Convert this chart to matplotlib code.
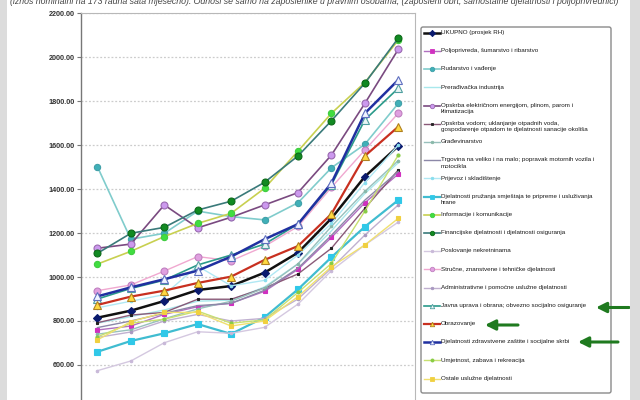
import numpy as np
import matplotlib
matplotlib.use("Agg")
import matplotlib.pyplot as plt
from matplotlib.patches import Rectangle, FancyBboxPatch

plt.rcParams["font.family"] = ["Liberation Sans", "DejaVu Sans"]

W, H = 640, 400

# ten time points (years are off the visible area)
x = np.arange(10)

labels = [
    "UKUPNO (prosjek RH)",
    "Poljoprivreda, šumarstvo i ribarstvo",
    "Rudarstvo i vađenje",
    "Prerađivačka industrija",
    "Opskrba električnom energijom, plinom, parom i\nklimatizacija",
    "Opskrba vodom; uklanjanje otpadnih voda,\ngospodarenje otpadom te djelatnosti sanacije okoliša",
    "Građevinarstvo",
    "Trgovina na veliko i na malo; popravak motornih vozila i\nmotocikla",
    "Prijevoz i skladištenje",
    "Djelatnosti pružanja smještaja te pripreme i usluživanja\nhrane",
    "Informacije i komunikacije",
    "Financijske djelatnosti i djelatnosti osiguranja",
    "Poslovanje nekretninama",
    "Stručne, znanstvene i tehničke djelatnosti",
    "Administrativne i pomoćne uslužne djelatnosti",
    "Javna uprava i obrana; obvezno socijalno osiguranje",
    "Obrazovanje",
    "Djelatnosti zdravstvene zaštite i socijalne skrbi",
    "Umjetnost, zabava i rekreacija",
    "Ostale uslužne djelatnosti",
]

ukupno = [815, 847, 891, 941, 959, 1020, 1111, 1267, 1457, 1596]
poljoprivreda = [759, 777, 830, 865, 881, 935, 1035, 1180, 1338, 1469]
rudarstvo = [1502, 1172, 1199, 1300, 1275, 1260, 1338, 1497, 1604, 1790]
preradjivacka = [790, 820, 850, 890, 895, 955, 1060, 1210, 1380, 1520]
elektricna = [1131, 1150, 1328, 1224, 1272, 1328, 1384, 1555, 1790, 2036]
voda = [792, 827, 839, 899, 899, 950, 1014, 1131, 1313, 1487]
gradjevinarstvo = [740, 760, 810, 855, 890, 950, 1060, 1230, 1390, 1530]
trgovina = [770, 800, 835, 870, 880, 940, 1040, 1190, 1350, 1480]
prijevoz = [860, 890, 920, 1050, 960, 985, 1100, 1244, 1430, 1600]
smjestaj = [660, 709, 744, 786, 741, 817, 944, 1090, 1229, 1350]
informacije = [1059, 1117, 1184, 1244, 1290, 1404, 1573, 1745, 1885, 2078]
financijske = [1108, 1199, 1226, 1305, 1345, 1431, 1551, 1711, 1882, 2087]
nekretnine = [574, 618, 701, 751, 744, 771, 877, 1029, 1146, 1250]
strucne = [938, 964, 1027, 1093, 1074, 1140, 1230, 1408, 1578, 1745]
administrativne = [725, 750, 800, 830, 800, 812, 900, 1040, 1191, 1328]
javna = [900, 948, 986, 1055, 1100, 1150, 1241, 1420, 1715, 1859]
obrazovanje = [873, 911, 938, 973, 1002, 1078, 1141, 1287, 1551, 1684]
zdravstvo = [912, 953, 990, 1029, 1093, 1172, 1241, 1427, 1745, 1897]
umjetnost = [728, 790, 808, 845, 790, 805, 930, 1062, 1300, 1555]
ostale = [714, 797, 839, 839, 777, 800, 911, 1047, 1146, 1267]

series = [ukupno, poljoprivreda, rudarstvo, preradjivacka, elektricna, voda,
          gradjevinarstvo, trgovina, prijevoz, smjestaj, informacije,
          financijske, nekretnine, strucne, administrativne, javna,
          obrazovanje, zdravstvo, umjetnost, ostale]

# line colour, width, marker, marker size, marker face, marker edge
styles = [
    ("#111111", 1.8, "D", 4.5, "#0a1a6e", "#0a1a6e"),
    ("#b070c0", 1.0, "s", 2.5, "#d030c0", "#d030c0"),
    ("#80cccc", 1.2, "o", 4.5, "#40b0b8", "#40a0a8"),
    ("#a8e8ec", 1.0, "", 0, "none", "none"),
    ("#7a4a80", 1.2, "o", 5.0, "#cc99ee", "#9a6ab0"),
    ("#8a5a78", 1.0, "s", 2.0, "#222222", "#222222"),
    ("#98c0bc", 1.0, "o", 1.8, "#88b8a8", "#88b8a8"),
    ("#8c88a8", 1.0, "", 0, "none", "none"),
    ("#b0e8f4", 1.0, "o", 1.8, "#88ddee", "#88ddee"),
    ("#40bcd0", 1.6, "s", 4.5, "#30c8e8", "#30c8e8"),
    ("#c8d050", 1.2, "o", 4.5, "#40dd40", "#40cc40"),
    ("#3a7a7a", 1.2, "o", 5.0, "#118a22", "#0c6a18"),
    ("#d4c8e0", 1.0, "o", 1.8, "#c8b8d8", "#c8b8d8"),
    ("#f0a8d0", 1.0, "o", 5.0, "#e0a0e0", "#c080c0"),
    ("#c0b0d0", 1.0, "o", 1.8, "#a898c0", "#a898c0"),
    ("#2a9a8a", 1.2, "^", 5.5, "#e8f4f4", "#50a0a0"),
    ("#c83020", 1.6, "^", 5.5, "#ffd840", "#b08020"),
    ("#2030a0", 1.8, "^", 5.5, "#f0f4ff", "#6070c0"),
    ("#c8e070", 1.0, "o", 2.2, "#88cc44", "#88cc44"),
    ("#f0e070", 1.0, "s", 2.5, "#f0d040", "#f0d040"),
]

fig = plt.figure(figsize=(W / 100, H / 100), dpi=100)
fig.patch.set_facecolor("white")

# grey page margins of the screenshot
fig.patches.append(Rectangle((0, 0), 7 / W, 1, transform=fig.transFigure,
                             facecolor="#dcdcdc", edgecolor="none", zorder=0))
fig.patches.append(Rectangle((630 / W, 0), 10 / W, 1, transform=fig.transFigure,
                             facecolor="#dcdcdc", edgecolor="none", zorder=0))

# caption, cut by the top edge like in the screenshot
cap = fig.text(10 / W, 1 - 1.5 / H,
               "(iznos nominalni na 173 radna sata mjesečno). Odnosi se samo na zaposlenike u pravnim "
               "osobama, (zaposleni obrt, samostalne djelatnosti i poljoprivrednici)",
               fontsize=7.6, style="italic", color="#444444", va="center", ha="left")
r = fig.canvas.get_renderer()
wpx = cap.get_window_extent(r).width
cap.set_fontsize(7.6 * 612 / wpx)

top_px, bot_px = 13.3, 408.9
ax = fig.add_axes([80.7 / W, 1 - bot_px / H, (415 - 80.7) / W, (bot_px - top_px) / H])
ax.set_xlim(-0.5, 9.5)
ax.set_ylim(400, 2200)

for vals, (c, lw, m, ms, mfc, mec) in zip(series, styles):
    ax.plot(x, vals, color=c, lw=lw, marker=m if m else None, ms=ms,
            mfc=mfc, mec=mec, mew=0.8, zorder=3)

ticks = np.arange(600, 2201, 200)
ax.set_yticks(ticks)
ax.set_yticklabels(["%.2f" % t for t in ticks], fontsize=5.2, fontweight="bold",
                   color="#333333")
ax.set_xticks([])
ax.tick_params(axis="y", length=3, width=0.8, color="#777777", pad=1.5)
ax.yaxis.grid(True, linestyle=(0, (1.5, 1.5)), color="#cccccc", lw=0.9)
ax.set_axisbelow(True)
ax.spines["left"].set_color("#777777")
ax.spines["left"].set_linewidth(1.0)
for s in ("top", "right"):
    ax.spines[s].set_color("#b8b8b8")
    ax.spines[s].set_linewidth(0.8)
ax.spines["bottom"].set_visible(False)

# legend drawn in its own axes, in pixel units
lax = fig.add_axes([0, 0, 1, 1], facecolor="none")
lax.set_xlim(0, W)
lax.set_ylim(H, 0)
lax.axis("off")
lax.add_patch(FancyBboxPatch((421, 27), 190, 366, boxstyle="round,pad=0,rounding_size=2",
                             facecolor="white", edgecolor="#8a8a8a", lw=1.0))
for i, (lab, (c, lw, m, ms, mfc, mec)) in enumerate(zip(labels, styles)):
    yy = 32.7 + 18.2 * i
    lax.plot([424, 440], [yy, yy], color=c, lw=lw, zorder=3)
    if m:
        lax.plot([432], [yy], marker=m, ms=min(ms, 3.2), mfc=mfc, mec=mec,
                 mew=0.6, zorder=4)
    lax.text(441, yy - 2.7, lab, fontsize=4.5, color="#1a1a1a", va="top", ha="left",
             linespacing=1.3)

# green arrows pointing at three legend entries
for x0, x1, yy in [(629, 596, 307.5), (518, 485, 325), (618, 578, 342)]:
    lax.annotate("", xy=(x1, yy), xytext=(x0, yy),
                 arrowprops=dict(arrowstyle="-|>,head_length=0.6,head_width=0.3",
                                 color="#1f7a1f", lw=2.2, shrinkA=0, shrinkB=0))

fig.savefig("out.png", dpi=100)
